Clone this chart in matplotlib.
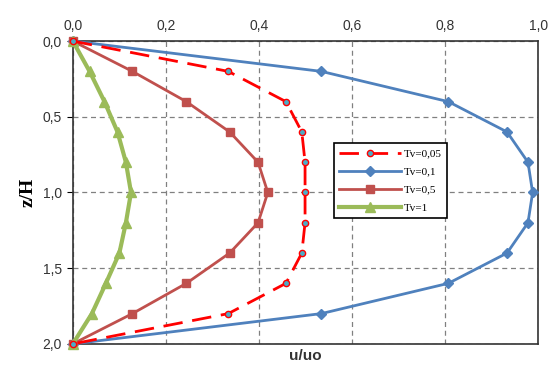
import numpy as np
import matplotlib
matplotlib.use("Agg")
import matplotlib.pyplot as plt
from matplotlib.ticker import FuncFormatter

# depth z/H
z = [0.0, 0.2, 0.4, 0.6, 0.8, 1.0, 1.2, 1.4, 1.6, 1.8, 2.0]

# u/uo for each Tv
u_tv005 = [0.0, 0.334, 0.458, 0.492, 0.499, 0.499, 0.499, 0.492, 0.458, 0.334, 0.0]
u_tv01 = [0.0, 0.534, 0.807, 0.933, 0.978, 0.988, 0.978, 0.933, 0.807, 0.534, 0.0]
u_tv05 = [0.0, 0.128, 0.244, 0.337, 0.398, 0.419, 0.398, 0.337, 0.244, 0.128, 0.0]
u_tv1 = [0.0, 0.036, 0.068, 0.096, 0.114, 0.125, 0.114, 0.100, 0.071, 0.041, 0.0]

labels = ["Tv=0,05", "Tv=0,1", "Tv=0,5", "Tv=1"]

fig = plt.figure(figsize=(5.56, 3.67), dpi=100)
ax = fig.add_axes([0.131, 0.063, 0.837, 0.825])

ax.plot(u_tv005, z, color="#FF0000", lw=2.0, dashes=(7, 3.5), marker="o", ms=4.5,
        mfc="#4BACC6", mec="#FF0000", mew=1.0, clip_on=False, label=labels[0], zorder=4)
ax.plot(u_tv01, z, color="#4F81BD", lw=2.0, marker="D", ms=5, mfc="#4F81BD",
        mec="#4F81BD", clip_on=False, label=labels[1], zorder=3)
ax.plot(u_tv05, z, color="#C0504D", lw=2.0, marker="s", ms=5.5, mfc="#C0504D",
        mec="#C0504D", clip_on=False, label=labels[2], zorder=3)
ax.plot(u_tv1, z, color="#9BBB59", lw=3.0, marker="^", ms=7, mfc="#9BBB59",
        mec="#9BBB59", clip_on=False, label=labels[3], zorder=3)

ax.set_xlim(0, 1.0)
ax.set_ylim(2.0, 0.0)
ax.set_xticks(np.arange(0, 1.01, 0.2))
ax.set_yticks(np.arange(0, 2.01, 0.5))
ax.xaxis.set_major_formatter(FuncFormatter(lambda v, p: f"{v:.1f}".replace(".", ",")))
ax.yaxis.set_major_formatter(FuncFormatter(lambda v, p: f"{v:.1f}".replace(".", ",")))
ax.xaxis.tick_top()
ax.tick_params(axis="x", length=0, pad=6, labelsize=10, labelcolor="#333333")
ax.tick_params(axis="y", length=4, direction="out", pad=4, labelsize=10, labelcolor="#333333")
for lab in ax.get_xticklabels() + ax.get_yticklabels():
    lab.set_family("Liberation Sans")

ax.grid(True, color="#808080", ls=(0, (4, 3)), lw=0.9)
ax.set_axisbelow(True)
for s in ax.spines.values():
    s.set_color("#333333")
    s.set_linewidth(1.2)

ax.set_xlabel("u/uo", fontsize=11, fontweight="bold", family="Liberation Sans",
              color="#333333", labelpad=4)
ax.set_ylabel("z/H", fontsize=14, fontweight="bold", family="Liberation Serif", labelpad=4)

leg = ax.legend(loc="upper left", bbox_to_anchor=(0.561, 0.663), fancybox=False,
                edgecolor="black", framealpha=1, prop={"family": "Liberation Serif", "size": 8},
                handlelength=5.5, borderpad=0.5, labelspacing=0.75, handletextpad=0.3,
                borderaxespad=0)
leg.get_frame().set_linewidth(1.2)

fig.savefig("out.png", dpi=100)
